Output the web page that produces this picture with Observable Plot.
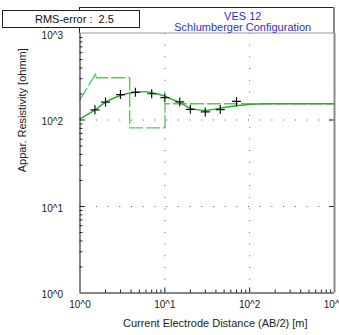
<!DOCTYPE html>
<html>
<head>
<meta charset="utf-8">
<script src="https://cdn.jsdelivr.net/npm/d3@7"></script>
<script src="https://cdn.jsdelivr.net/npm/@observablehq/plot@0.6"></script>
<style>
  body { margin: 0; background: #fff; }
  svg { font-family: "Liberation Sans", Arial, sans-serif; }
</style>
</head>
<body>
<div id="chart"></div>
<script>
// Field sounding VES 12: half electrode spacing AB/2 [m] and apparent resistivity [ohm·m]
const ab2 = [1.5, 2, 3, 4.5, 7, 10, 15, 20, 30, 45, 70];
const rhoObs = [131, 161, 197, 209, 201, 181, 162, 133, 124, 132, 164];

// Apparent resistivity computed for the fitted model
const curveAb2 = [1, 1.5, 2, 3, 4.4, 5.9, 6.8, 10, 12.7, 14.9, 18.2, 20, 25, 30, 45, 68, 97, 145, 1000];
const curveRho = [103, 131, 161, 192, 209, 213, 208, 189, 171, 160, 143, 136, 131, 129, 137, 145, 151, 154, 154];

// Layered model: depth [m] vs layer resistivity, drawn as a dashed step line
const modelDepth = [1, 1.55, 1.55, 3.85, 3.85, 10.05, 10.05, 1000];
const modelRho = [173, 348, 308, 308, 81, 81, 154, 154];

// Decade labels, grid lines and minor log ticks
const decades = [1, 10, 100, 1000];
const gridValues = [10, 100];
const minorTicks = [2, 3, 4, 5, 6, 7, 8, 9, 20, 30, 40, 50, 60, 70, 80, 90, 200, 300, 400, 500, 600, 700, 800, 900];

const rmsError = 2.5;
const title = "VES 12";
const subtitle = "Schlumberger Configuration";

const curve = curveAb2.map((x, i) => ({x, y: curveRho[i]}));
const model = modelDepth.map((x, i) => ({x, y: modelRho[i]}));
const obs = ab2.map((x, i) => ({x, y: rhoObs[i]}));

const W = 339, H = 335;
const mL = 79.5, mR = 5, mT = 33, mB = 42.5;
const fw = W - mL - mR, fh = H - mT - mB;
const pow = d => "10^" + Math.round(Math.log10(d));

const chart = Plot.plot({
  width: W,
  height: H,
  marginLeft: mL,
  marginRight: mR,
  marginTop: mT,
  marginBottom: mB,
  style: {background: "#fff", fontFamily: "'Liberation Sans', Arial, sans-serif"},
  x: {type: "log", domain: [1, 1000]},
  y: {type: "log", domain: [1, 1000]},
  marks: [
    // dotted decade grid
    Plot.ruleX(gridValues, {stroke: "#555", strokeWidth: 1, strokeDasharray: "1,10.7"}),
    Plot.ruleY(gridValues, {stroke: "#555", strokeWidth: 1, strokeDasharray: "1,10.7", strokeDashoffset: 7}),
    // inside ticks on the left and bottom axes
    Plot.tickY(minorTicks, {y: d => d, stroke: "#222", insetRight: fw - 3}),
    Plot.tickY(gridValues, {y: d => d, stroke: "#222", insetRight: fw - 5}),
    Plot.tickX(minorTicks, {x: d => d, stroke: "#222", insetTop: fh - 3}),
    Plot.tickX(gridValues, {x: d => d, stroke: "#222", insetTop: fh - 5}),
    Plot.tickY(gridValues, {y: d => d, stroke: "#222", insetLeft: fw - 5}),
    // layered model
    Plot.line(model, {x: "x", y: "y", stroke: "#5cc75c", strokeWidth: 1.4, strokeDasharray: "13,4"}),
    // computed curve
    Plot.line(curve, {x: "x", y: "y", stroke: "#2aab2a", strokeWidth: 1.4, curve: "monotone-x"}),
    // observed values
    Plot.dot(obs, {x: "x", y: "y", symbol: "plus", r: 3, stroke: "#111", strokeWidth: 1.2}),
    // frame lines
    Plot.ruleX([1], {stroke: "#111", strokeWidth: 1}),
    Plot.ruleY([1], {stroke: "#111", strokeWidth: 1}),
    Plot.ruleX([1000], {stroke: "#8a8a8a", strokeWidth: 2}),
    // axes
    Plot.axisX(decades, {anchor: "bottom", tickSize: 0, tickPadding: 8, tickFormat: pow, fontSize: 10, fill: "#222", label: null}),
    Plot.axisY(decades, {anchor: "left", tickSize: 0, tickPadding: 17, tickFormat: pow, fontSize: 10, fill: "#222", dy: 2, label: null}),
    Plot.text(["Current Electrode Distance (AB/2) [m]"], {frameAnchor: "bottom", textAnchor: "middle", lineAnchor: "middle", dx: 8, dy: 30.5, fontSize: 11, fill: "#222"}),
    Plot.text(["Appar. Resistivity [ohmm]"], {frameAnchor: "left", textAnchor: "middle", lineAnchor: "middle", rotate: -90, dx: -57.5, dy: -53, fontSize: 11, fill: "#222"})
  ]
});

// Header: title panel above the frame and RMS box on the left
const svg = d3.select(chart);
const head = svg.append("g");
head.append("rect").attr("x", mL).attr("y", 7).attr("width", fw).attr("height", mT - 7).attr("fill", "#fff");
head.append("line").attr("x1", mL).attr("x2", mL + fw).attr("y1", 7.5).attr("y2", 7.5).attr("stroke", "#222");
head.append("line").attr("x1", mL).attr("x2", mL).attr("y1", 7).attr("y2", mT).attr("stroke", "#222");
head.append("line").attr("x1", mL).attr("x2", mL + fw).attr("y1", mT).attr("y2", mT).attr("stroke", "#999");
head.append("line").attr("x1", mL + fw).attr("x2", mL + fw).attr("y1", 7).attr("y2", mT).attr("stroke", "#8a8a8a").attr("stroke-width", 2);
head.append("text").attr("x", mL + fw / 2 + 36).attr("y", 19.5).attr("text-anchor", "middle")
  .attr("font-size", 11).attr("fill", "#2f2fc8").text(title);
head.append("text").attr("x", mL + fw / 2 + 36).attr("y", 31).attr("text-anchor", "middle")
  .attr("font-size", 11).attr("fill", "#2f2fc8").text(subtitle);
head.append("rect").attr("x", 2.5).attr("y", 10.5).attr("width", 137).attr("height", 17)
  .attr("fill", "#fff").attr("stroke", "#222");
head.append("text").attr("x", 35).attr("y", 23).attr("text-anchor", "start").attr("font-size", 11).attr("fill", "#111")
  .style("white-space", "pre").text("RMS-error :  " + rmsError);

document.getElementById("chart").appendChild(chart);
</script>
</body>
</html>
